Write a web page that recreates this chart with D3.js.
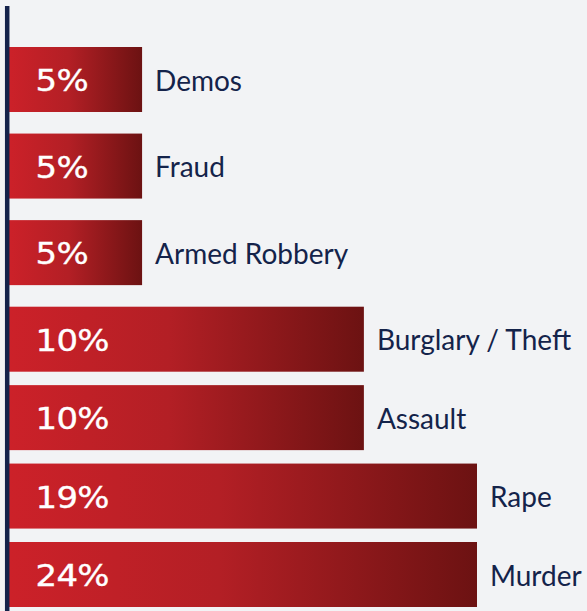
<!DOCTYPE html>
<html>
<head>
<meta charset="utf-8">
<script src="https://cdn.jsdelivr.net/npm/d3@7"></script>
<style>
    html, body { margin: 0; padding: 0; background: #f2f3f5; }
    svg { display: block; }
</style>
</head>
<body>
<script>
// crime categories, top to bottom
const categories = ["Demos", "Fraud", "Armed Robbery", "Burglary / Theft", "Assault", "Rape", "Murder"];
const shares = [5, 5, 5, 10, 10, 19, 24];
const shareLabels = ["5%", "5%", "5%", "10%", "10%", "19%", "24%"];

const width = 587;
const height = 611;

const svg = d3.select("body").append("svg")
    .attr("width", width)
    .attr("height", height);

svg.append("rect")
    .attr("width", width)
    .attr("height", height)
    .attr("fill", "#f2f3f5");

// red to dark red, per bar
const grad = svg.append("defs").append("linearGradient")
    .attr("id", "barGrad")
    .attr("x1", "0%").attr("x2", "100%")
    .attr("y1", "0%").attr("y2", "0%");
grad.append("stop").attr("offset", "0%").attr("stop-color", "#cc2129");
grad.append("stop").attr("offset", "45%").attr("stop-color", "#b31f25");
grad.append("stop").attr("offset", "100%").attr("stop-color", "#6c1212");

// the original bars are not zero based and the longest ones are capped
const x = d3.scaleLinear()
    .domain([2, 12.55])
    .range([9, 477])
    .clamp(true);

// rows are a bit looser at the top than at the bottom
const rowTop = d3.scaleLinear()
    .domain([0, 3, 6])
    .range([47, 306.7, 542]);
const barH = 65;

const rows = svg.selectAll(".row")
    .data(categories)
    .enter().append("g")
    .attr("class", "row")
    .attr("transform", function(d, i) { return "translate(0," + rowTop(i) + ")"; });

rows.append("rect")
    .attr("x", x.range()[0])
    .attr("y", 0)
    .attr("width", function(d, i) { return x(shares[i]) - x.range()[0]; })
    .attr("height", barH)
    .attr("fill", "url(#barGrad)");

rows.append("text")
    .attr("transform", "translate(35.5," + (barH / 2 + 11.5) + ") scale(1.15,1)")
    .attr("fill", "#ffffff")
    .attr("stroke", "#ffffff")
    .attr("stroke-width", 0.35)
    .style("font-family", "'DejaVu Sans', sans-serif")
    .style("font-size", "29.5px")
    .style("letter-spacing", "-0.6px")
    .text(function(d, i) { return shareLabels[i]; });

rows.append("text")
    .attr("x", function(d, i) { return x(shares[i]) + 13; })
    .attr("y", barH / 2 + 11)
    .attr("fill", "#14234a")
    .style("font-family", "Lato, sans-serif")
    .style("font-size", "28px")
    .text(function(d) { return d; });

// vertical rule on the left
svg.append("line")
    .attr("x1", 7.2).attr("x2", 7.2)
    .attr("y1", 6).attr("y2", height)
    .attr("stroke", "#14224a")
    .attr("stroke-width", 4.5);
</script>
</body>
</html>
